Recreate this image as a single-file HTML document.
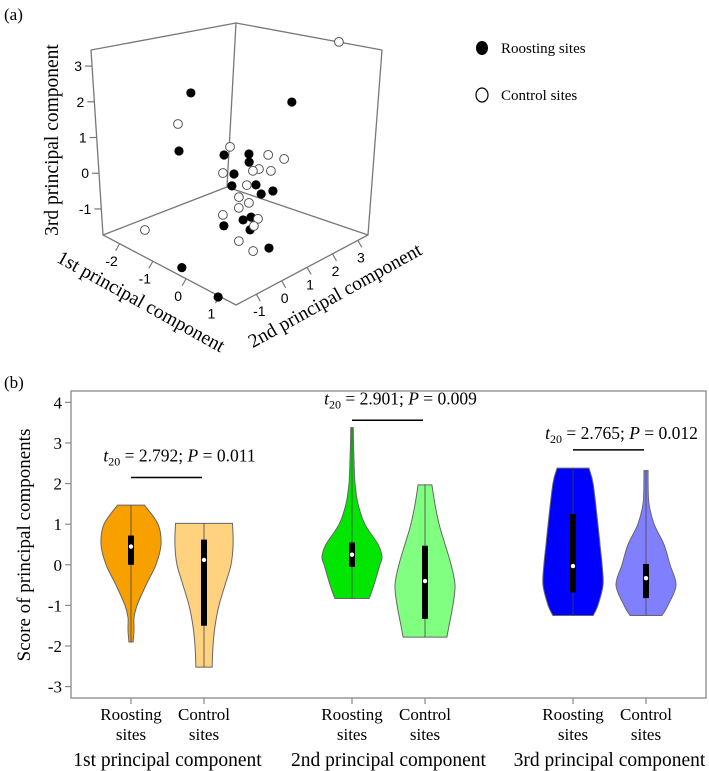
<!DOCTYPE html>
<html><head><meta charset="utf-8"><style>
body{margin:0;background:#fff;}
svg{display:block;font-family:"Liberation Serif",serif;}
</style></head><body>
<svg width="709" height="771" viewBox="0 0 709 771" xmlns="http://www.w3.org/2000/svg" id="fig">
<text x="4" y="20" font-size="17">(a)</text>
<text x="4" y="388" font-size="17">(b)</text>
<g id="p3d"></g>
<g id="legend">
 <ellipse cx="482" cy="48" rx="6" ry="7" fill="#000"/>
 <text x="501" y="53" font-size="15">Roosting sites</text>
 <ellipse cx="482" cy="95" rx="6" ry="7" fill="#fff" stroke="#000" stroke-width="1.2"/>
 <text x="501" y="100" font-size="15">Control sites</text>
</g>
<g id="pv"></g>
</svg>
<script>
// ---------- 3D scatter data ----------
const roostPC1 = [-0.48,0.28,-0.84,-0.24,0.13,0.52,0.06,0.38,-0.04,0.50,0.09,0.72,0.58,0.52,0.93,1.12,-0.37,0.73];
const roostPC2 = [-1,2,-1,0,0.5,0,0,-0.5,1,0.5,1.5,-0.5,0,-1,-0.5,0,-1.5,-1.5];
const roostPC3 = [2.86,1.75,1.05,0.83,0.84,1.02,0.45,0.49,-0.32,-0.09,-0.63,-0.29,-0.49,-0.35,-0.46,-1.08,-1.77,-2.03];
const ctrlPC1 = [0.94,-0.87,-0.06,0.33,0.43,0.11,0.05,0.25,0.03,0.45,0.21,0.13,0.59,0.49,0.02,0.28,0.59,0.64,-1.49];
const ctrlPC2 = [3,-1,0,1,1.5,-0.5,1,0.5,1.5,0,0,0.5,-0.5,-1,1,0.5,-0.5,0,-1.5];
const ctrlPC3 = [3.36,1.79,1.15,0.71,0.44,0.71,0.17,0.43,-0.10,0.34,-0.12,-0.53,-0.02,-0.06,-1.24,-1.10,-0.95,-1.41,-1.29];
const zTicks = [3,2,1,0,-1];
const pc1Ticks = [-2,-1,0,1];
const pc2Ticks = [-1,0,1,2,3];

// ---------- violin data ----------
const groups = ["1st principal component","2nd principal component","3rd principal component"];
const yTicks = [4,3,2,1,0,-1,-2,-3];
const v1Levels=[1.47,1.0,0.5,0,-0.5,-1.0,-1.3,-1.6,-1.9], v1Dens=[0.45,0.9,1.0,0.83,0.5,0.2,0.1,0.1,0.07];
const v2Levels=[1.02,0.5,0,-0.5,-1.0,-1.5,-2.0,-2.52], v2Dens=[0.95,0.97,0.9,0.7,0.5,0.37,0.3,0.27];
const v3Levels=[3.38,3.0,2.5,2.0,1.5,1.0,0.5,0.2,0,-0.5,-0.83], v3Dens=[0.04,0.05,0.07,0.1,0.2,0.43,0.87,1.0,0.93,0.73,0.57];
const v4Levels=[1.97,1.5,1.0,0.5,0,-0.5,-1.0,-1.5,-1.78], v4Dens=[0.23,0.33,0.47,0.67,0.87,1.0,0.93,0.8,0.73];
const v5Levels=[2.38,2.0,1.0,0.5,0,-0.5,-1.0,-1.25], v5Dens=[0.53,0.67,0.83,0.9,0.97,1.0,0.83,0.67];
const v6Levels=[2.32,2.0,1.5,1.0,0.5,0,-0.5,-1.0,-1.25], v6Dens=[0.07,0.07,0.1,0.27,0.6,0.8,1.0,0.73,0.53];
const medians=[0.45,0.12,0.25,-0.40,-0.03,-0.33];
const q1s=[0.0,-1.5,-0.05,-1.33,-0.68,-0.82];
const q3s=[0.72,0.62,0.55,0.47,1.25,0.02];
const tStats=["2.792","2.901","2.765"];
const pVals=["0.011","0.009","0.012"];
const barLevels=[2.15,3.56,2.83];
const textLevels=[2.55,3.95,3.1];

const NS="http://www.w3.org/2000/svg";
function mk(tag,attrs,parent){const e=document.createElementNS(NS,tag);for(const k in attrs)e.setAttribute(k,attrs[k]);parent.appendChild(e);return e;}

// ---------- 3D ----------
const g3=document.getElementById('p3d');
function proj(p1,p2,p3){return [232+33*p1+25.3*p2, 189+18.3*p1-14.8*p2-35.7*p3];}
const frame=[[[91,50],[236,23],[382,50]],[[91,50],[103,235],[236,305],[368,235],[382,50]],[[236,23],[227,187]],[[103,235],[227,187],[368,235]]];
frame.forEach((pts,i)=>{const l=mk('polyline',{points:pts.map(p=>p.join(',')).join(' '),fill:'none',stroke:'#777','stroke-width':1.3},g3);

});
function zEdge(z){const t=(z+1.73)/(3.45+1.73);return [103+(91-103)*t, 235+(50-235)*t];}
zTicks.forEach(v=>{const [x,y]=zEdge(v);
 const tk=mk('line',{x1:x,y1:y,x2:x-7,y2:y,stroke:'#777','stroke-width':1.2},g3);
 
 
 const t=mk('text',{x:x-10,y:y+5,'text-anchor':'end','font-family':'Liberation Sans, sans-serif','font-size':14},g3);t.textContent=v;
 
 });
function pc1Edge(v){const t=(v+2.5)/4.0;return [103+133*t,235+70*t];}
pc1Ticks.forEach(v=>{const [x,y]=pc1Edge(v);
 const tk=mk('line',{x1:x,y1:y,x2:x-4,y2:y+7,stroke:'#777','stroke-width':1.2},g3);
 
 
 const t=mk('text',{x:x-8,y:y+22,'text-anchor':'middle','font-family':'Liberation Sans, sans-serif','font-size':14},g3);t.textContent=v;
 
 });
function pc2Edge(v){const t=(v+1.8)/5.2;return [236+132*t,305-70*t];}
pc2Ticks.forEach(v=>{const [x,y]=pc2Edge(v);
 const tk=mk('line',{x1:x,y1:y,x2:x+4,y2:y+7,stroke:'#777','stroke-width':1.2},g3);
 
 
 const t=mk('text',{x:x+3,y:y+22,'text-anchor':'middle','font-family':'Liberation Sans, sans-serif','font-size':14},g3);t.textContent=v;
 
 });
[['3rd principal component',58,140,-90,'z-axis-title'],['1st principal component',138,307,29,'x-axis-title'],['2nd principal component',338,301,-29,'y-axis-title']].forEach(a=>{
 const t=mk('text',{x:a[1],y:a[2],'text-anchor':'middle','font-size':19.5,transform:`rotate(${a[3]} ${a[1]} ${a[2]})`},g3);t.textContent=a[0];
 
 });
roostPC1.forEach((v,i)=>{const [x,y]=proj(v,roostPC2[i],roostPC3[i]);
 const c=mk('circle',{cx:x,cy:y,r:4.6,fill:'#000'},g3);
 
 });
ctrlPC1.forEach((v,i)=>{const [x,y]=proj(v,ctrlPC2[i],ctrlPC3[i]);
 const c=mk('circle',{cx:x,cy:y,r:4.4,fill:'#fff',stroke:'#555','stroke-width':1},g3);
 
 });

// ---------- violins ----------
const gv=document.getElementById('pv');
const X0=71,X1=706,Y0=391,Y1=698;
function yS(v){return 564.8-v*40.6;}
const xCenters=[131,204,352,425,573,646];
const colors=['#f7a000','#ffd27f','#00e600','#80ff80','#0000ff','#8080ff'];
const levels=[v1Levels,v2Levels,v3Levels,v4Levels,v5Levels,v6Levels];
const dens=[v1Dens,v2Dens,v3Dens,v4Dens,v5Dens,v6Dens];
const frameRect=mk('rect',{x:X0,y:Y0,width:X1-X0,height:Y1-Y0,fill:'none',stroke:'#888','stroke-width':1.3},gv);


yTicks.forEach(v=>{const y=yS(v);
 const tk=mk('line',{x1:X0-6,y1:y,x2:X0,y2:y,stroke:'#888','stroke-width':1.2},gv);
 
 
 const t=mk('text',{x:X0-9,y:y+6,'text-anchor':'end','font-size':17},gv);t.textContent=v;
 
 });
const yt=mk('text',{x:30,y:545,'text-anchor':'middle','font-size':19,transform:'rotate(-90 30 545)'},gv);yt.textContent='Score of principal components';


function smooth(pts){let d='';for(let i=0;i<pts.length-1;i++){const p0=pts[Math.max(i-1,0)],p1=pts[i],p2=pts[i+1],p3=pts[Math.min(i+2,pts.length-1)];
 const c1=[p1[0]+(p2[0]-p0[0])/6,p1[1]+(p2[1]-p0[1])/6],c2=[p2[0]-(p3[0]-p1[0])/6,p2[1]-(p3[1]-p1[1])/6];
 d+=` C${c1[0]},${c1[1]} ${c2[0]},${c2[1]} ${p2[0]},${p2[1]}`;}return d;}
xCenters.forEach((cx,i)=>{
 const L=levels[i],D=dens[i];
 const right=L.map((v,k)=>[cx+D[k]*30,yS(v)]);
 const left=L.map((v,k)=>[cx-D[k]*30,yS(v)]).reverse();
 let d=`M${cx},${yS(L[0])} L${right[0][0]},${right[0][1]}`+smooth(right)+` L${left[0][0]},${left[0][1]}`+smooth(left)+' Z';
 const p=mk('path',{d:d,fill:colors[i],stroke:'#666','stroke-width':1},gv);
 
 
 const w=mk('line',{x1:cx,y1:yS(L[0]),x2:cx,y2:yS(L[L.length-1]),stroke:'#444','stroke-width':0.8},gv);
 
 
 const b=mk('rect',{x:cx-3,y:yS(q3s[i]),width:6,height:yS(q1s[i])-yS(q3s[i]),fill:'#000'},gv);
 
 
 const m=mk('circle',{cx:cx,cy:yS(medians[i]),r:2.2,fill:'#fff'},gv);
 
 
 const tk=mk('line',{x1:cx,y1:Y1,x2:cx,y2:Y1+6,stroke:'#888','stroke-width':1.2},gv);
 
 
 const t1=mk('text',{x:cx,y:720,'text-anchor':'middle','font-size':17},gv);t1.textContent=i%2?'Control':'Roosting';
 
 
 const t2=mk('text',{x:cx,y:740,'text-anchor':'middle','font-size':17},gv);t2.textContent='sites';
 
 
});
groups.forEach((g,j)=>{const cx=(xCenters[2*j]+xCenters[2*j+1])/2;
 const t=mk('text',{x:cx,y:766,'text-anchor':'middle','font-size':19.5},gv);t.textContent=g;
 
 
 const l=mk('line',{x1:xCenters[2*j],y1:yS(barLevels[j]),x2:xCenters[2*j+1]-2,y2:yS(barLevels[j]),stroke:'#000','stroke-width':1.5},gv);
 
 
 const s=mk('text',{x:cx+12,y:yS(textLevels[j]),'text-anchor':'middle','font-size':17.5},gv);
 s.innerHTML=`<tspan font-style="italic">t</tspan><tspan font-size="12" dy="4">20</tspan><tspan dy="-4"> = ${tStats[j]}; </tspan><tspan font-style="italic">P</tspan><tspan> = ${pVals[j]}</tspan>`;
 
 
});
</script>
</body></html>
